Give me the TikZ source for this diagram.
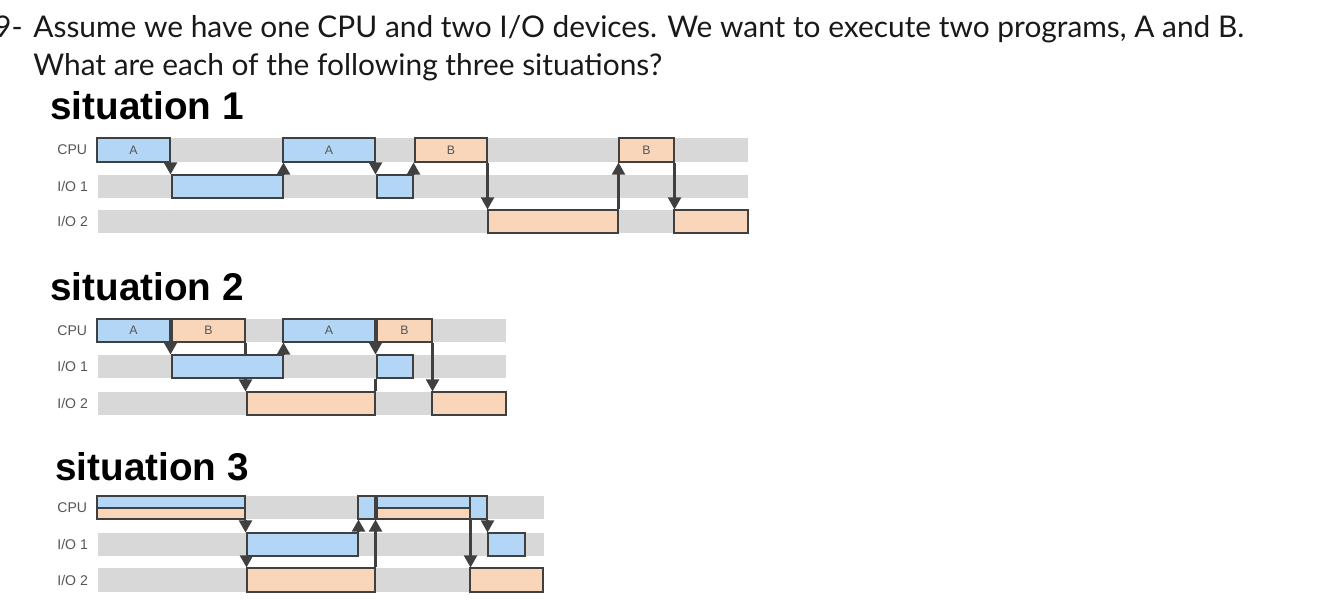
\documentclass[tikz,border=0pt]{standalone}
\usepackage{fontspec}
\setmainfont{Lato}
\newfontfamily\arialfont{Liberation Sans}
\usetikzlibrary{arrows.meta, positioning, fit}

\definecolor{bandgray}{HTML}{D8D8D8}
\definecolor{progA}{HTML}{B4D6F6}
\definecolor{progB}{HTML}{F9D6BA}
\definecolor{edgegray}{HTML}{404040}
\definecolor{labelgray}{HTML}{555555}

\pgfdeclarelayer{bands}
\pgfdeclarelayer{signals}
\pgfsetlayers{bands,signals,main}

\tikzset{
  question/.style={inner sep=0pt, text=black!90, font=\fontsize{17}{21}\selectfont},
  sittitle/.style={inner sep=0pt, text=black, font=\arialfont\bfseries\fontsize{22}{24}\selectfont},
  rowlabel/.style={anchor=west, inner sep=0pt, text=labelgray, font=\arialfont\fontsize{8}{8}\selectfont},
  band/.style={fill=bandgray, draw=none, inner sep=0pt},
  abar/.style={fill=progA, draw=edgegray, line width=0.6pt, inner sep=0pt},
  bbar/.style={abar, fill=progB},
  bartext/.style={inner sep=0pt, text=labelgray, font=\arialfont\fontsize{7}{7}\selectfont},
  signal/.style={-{Triangle[length=2.4mm, width=2.6mm]}, line width=1.2pt, draw=edgegray},
  wire/.style={line width=1.2pt, draw=edgegray}
}

\begin{document}
\begin{tikzpicture}[x=0.2mm, y=-0.2mm]
  \useasboundingbox (0,0) rectangle (1334,600);

  % Question
  \node[question, anchor=base east] (qnum) at (23,38) {9-};
  \node[question, anchor=base west] (qline1) at (33,38) {Assume we have one CPU and two I/O devices. We want to execute two programs, A and B.};
  \node[question, anchor=base west] (qline2) at (33,76) {What are each of the following three situations?};

  % Situation 1
  \node[sittitle, anchor=base west] (sit1) at (50,120) {situation 1};
  \begin{pgfonlayer}{bands}
    \node[band, fit={(98,138) (748,162)}] (s1cpu) {};
    \node[band, fit={(98,175) (748,198)}] (s1io1) {};
    \node[band, fit={(98,210) (748,233)}] (s1io2) {};
  \end{pgfonlayer}
  \node[rowlabel] (s1cpulab) at (57,150) {CPU};
  \node[rowlabel] (s1io1lab) at (57,186.5) {I/O 1};
  \node[rowlabel] (s1io2lab) at (57,221.5) {I/O 2};

  \node[abar, fit={(97,138) (170,162)}, label={[bartext]center:A}] (s1a1) {};
  \node[abar, fit={(172,175) (283,198)}] (s1io1a) {};
  \node[abar, fit={(283,138) (375,162)}, label={[bartext]center:A}] (s1a2) {};
  \node[abar, fit={(377,175) (413,198)}] (s1io1b) {};
  \node[bbar, fit={(415,138) (487,162)}, label={[bartext]center:B}] (s1b1) {};
  \node[bbar, fit={(488,210) (618,233)}] (s1io2a) {};
  \node[bbar, fit={(619,138) (674,162)}, label={[bartext]center:B}] (s1b2) {};
  \node[bbar, fit={(674,210) (748,233)}] (s1io2b) {};

  \begin{pgfonlayer}{signals}
    \draw[signal] (s1a1.south east) -- (s1a1.south east |- s1io1a.north);
    \draw[signal] (s1io1a.north east) -- (s1io1a.north east |- s1a2.south);
    \draw[signal] (s1a2.south east) -- (s1a2.south east |- s1io1b.north);
    \draw[signal] (s1io1b.north east) -- (s1io1b.north east |- s1b1.south);
    \draw[signal] (s1b1.south east) -- (s1b1.south east |- s1io2a.north);
    \draw[signal] (s1io2a.north east) -- (s1io2a.north east |- s1b2.south);
    \draw[signal] (s1b2.south east) -- (s1b2.south east |- s1io2b.north);
  \end{pgfonlayer}

  % Situation 2
  \node[sittitle, anchor=base west] (sit2) at (50,300) {situation 2};
  \begin{pgfonlayer}{bands}
    \node[band, fit={(98,319) (506,342)}] (s2cpu) {};
    \node[band, fit={(98,355) (506,378)}] (s2io1) {};
    \node[band, fit={(98,392) (506,415)}] (s2io2) {};
  \end{pgfonlayer}
  \node[rowlabel] (s2cpulab) at (57,330.5) {CPU};
  \node[rowlabel] (s2io1lab) at (57,366.5) {I/O 1};
  \node[rowlabel] (s2io2lab) at (57,403.5) {I/O 2};

  \node[abar, fit={(97,319) (170,342)}, label={[bartext]center:A}] (s2a1) {};
  \node[bbar, fit={(172,319) (245,342)}, label={[bartext]center:B}] (s2b1) {};
  \node[abar, fit={(172,355) (283,378)}] (s2io1a) {};
  \node[bbar, fit={(247,392) (375,415)}] (s2io2a) {};
  \node[abar, fit={(283,319) (375,342)}, label={[bartext]center:A}] (s2a2) {};
  \node[bbar, fit={(377,319) (432,342)}, label={[bartext]center:B}] (s2b2) {};
  \node[abar, fit={(377,355) (413,378)}] (s2io1b) {};
  \node[bbar, fit={(432,392) (506,415)}] (s2io2b) {};

  \begin{pgfonlayer}{signals}
    \draw[signal] (s2a1.south east) -- (s2a1.south east |- s2io1a.north);
    \draw[signal] (s2b1.south east) -- (s2b1.south east |- s2io2a.north);
    \draw[signal] (s2io1a.north east) -- (s2io1a.north east |- s2a2.south);
    \draw[signal] (s2a2.south east) -- (s2a2.south east |- s2io1b.north);
    \draw[wire] (s2io2a.north east) -- (s2io2a.north east |- s2io1b.south);
    \draw[signal] (s2b2.south east) -- (s2b2.south east |- s2io2b.north);
  \end{pgfonlayer}

  % Situation 3
  \node[sittitle, anchor=base west] (sit3) at (55,480) {situation 3};
  \begin{pgfonlayer}{bands}
    \node[band, fit={(98,496) (544,519)}] (s3cpu) {};
    \node[band, fit={(98,533) (544,556)}] (s3io1) {};
    \node[band, fit={(98,568) (544,592)}] (s3io2) {};
  \end{pgfonlayer}
  \node[rowlabel] (s3cpulab) at (57,507.5) {CPU};
  \node[rowlabel] (s3io1lab) at (57,544.5) {I/O 1};
  \node[rowlabel] (s3io2lab) at (57,580) {I/O 2};

  \node[abar, fit={(97,496) (245,508)}] (s3a1) {};
  \node[bbar, fit={(97,508) (245,519)}] (s3b1) {};
  \node[abar, fit={(247,533) (358,556)}] (s3io1a) {};
  \node[bbar, fit={(247,568) (375,592)}] (s3io2a) {};
  \node[abar, fit={(358,496) (375,519)}] (s3a2) {};
  \node[abar, fit={(377,496) (470,508)}] (s3a3) {};
  \node[bbar, fit={(377,508) (470,519)}] (s3b2) {};
  \node[abar, fit={(470,496) (487,519)}] (s3a4) {};
  \node[abar, fit={(488,533) (525,556)}] (s3io1b) {};
  \node[bbar, fit={(470,568) (543,592)}] (s3io2b) {};

  \begin{pgfonlayer}{signals}
    \draw[signal] (s3b1.south east) -- (s3b1.south east |- s3io1a.north);
    \draw[signal] (s3io1a.south west) -- (s3io1a.south west |- s3io2a.north);
    \draw[signal] (s3io1a.north east) -- (s3io1a.north east |- s3a2.south);
    \draw[signal] (s3io2a.north east) -- (s3io2a.north east |- s3b2.south);
    \draw[signal] (s3b2.south east) -- (s3b2.south east |- s3io2b.north);
    \draw[signal] (s3a4.south east) -- (s3a4.south east |- s3io1b.north);
  \end{pgfonlayer}
\end{tikzpicture}
\end{document}
